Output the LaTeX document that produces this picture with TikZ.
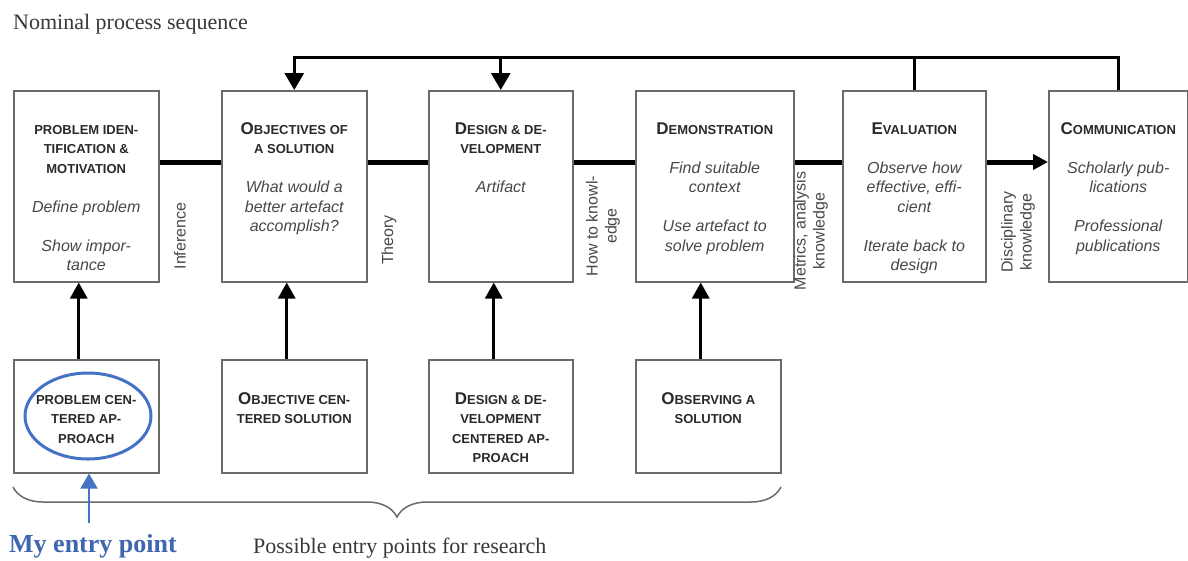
\documentclass[tikz,border=0pt]{standalone}
\usepackage{fontspec}
\usetikzlibrary{arrows.meta,shapes.geometric,decorations.pathreplacing,calc}
\newfontfamily\hv{Liberation Sans}
\newfontfamily\tms{Liberation Serif}
\definecolor{boxgray}{HTML}{6A6A6A}
\definecolor{hdgray}{HTML}{2A2A2A}
\definecolor{bdgray}{HTML}{484848}
\definecolor{myblue}{HTML}{4472C4}
\definecolor{textblue}{HTML}{3F66B0}
\newcommand\hdr[1]{{\bfseries\color{hdgray}\fontsize{13}{19.5}\selectfont #1}}
\newcommand\hdrb[2]{{\bfseries\color{hdgray}\fontsize{17}{19.5}\selectfont #1\fontsize{13}{19.5}\selectfont #2}}
\newcommand\bdy[1]{{\itshape\color{bdgray}#1}}
\newcommand\fst{\rule{0pt}{12pt}}
\begin{document}
\begin{tikzpicture}[x=1pt,y=-1pt,
  box/.style={draw=boxgray,line width=1.5pt,anchor=north west,inner sep=0},
  btext/.style={anchor=north,align=center,inner sep=0,font=\hv\fontsize{16}{19.5}\selectfont},
  vlab/.style={rotate=90,align=center,inner sep=0,text=bdgray,font=\hv\fontsize{16}{19}\selectfont},
  mainline/.style={line width=5pt},
  fbline/.style={line width=3pt},
  downarrow/.style={line width=3pt,-{Triangle[width=19pt,length=17pt]}},
  uparrow/.style={line width=3pt,-{Triangle[width=17pt,length=16pt]}},
  serif/.style={anchor=base west,inner sep=0,font=\tms\fontsize{22}{22}\selectfont,text=black!78}
]
\useasboundingbox (0,0) rectangle (1188,560);
\fill[white] (0,0) rectangle (1188,560);

% top boxes
\node[box,minimum width=145,minimum height=191] (t1) at (13,90) {};
\node[box,minimum width=145,minimum height=191] (t2) at (221,90) {};
\node[box,minimum width=144,minimum height=191] (t3) at (428,90) {};
\node[box,minimum width=158,minimum height=191] (t4) at (635,90) {};
\node[box,minimum width=143,minimum height=191] (t5) at (842,90) {};
\node[box,minimum width=139,minimum height=191] (t6) at (1048,90) {};

% bottom boxes
\node[box,minimum width=145,minimum height=113] (b1) at (13,359) {};
\node[box,minimum width=145,minimum height=113] (b2) at (221,359) {};
\node[box,minimum width=144,minimum height=113] (b3) at (428,359) {};
\node[box,minimum width=145,minimum height=113] (b4) at (635,359) {};

% texts in top boxes
\node[btext] (t1x) at ([yshift=-32pt]t1.north) {\fst\hdr{PROBLEM IDEN-}\\ \hdr{TIFICATION \&}\\ \hdr{MOTIVATION}\\[19.5pt] \bdy{Define problem}\\[19.5pt] \bdy{Show impor-}\\ \bdy{tance}};
\node[btext] (t2x) at ([yshift=-32pt]t2.north) {\fst\hdrb{O}{BJECTIVES OF}\\ \hdr{A SOLUTION}\\[19.5pt] \bdy{What would a}\\ \bdy{better artefact}\\ \bdy{accomplish?}};
\node[btext] (t3x) at ([yshift=-32pt]t3.north) {\fst\hdrb{D}{ESIGN \& DE-}\\ \hdr{VELOPMENT}\\[19.5pt] \bdy{Artifact}};
\node[btext] (t4x) at ([yshift=-32pt]t4.north) {\fst\hdrb{D}{EMONSTRATION}\\[19.5pt] \bdy{Find suitable}\\ \bdy{context}\\[19.5pt] \bdy{Use artefact to}\\ \bdy{solve problem}};
\node[btext] (t5x) at ([yshift=-32pt]t5.north) {\fst\hdrb{E}{VALUATION}\\[19.5pt] \bdy{Observe how}\\ \bdy{effective, effi-}\\ \bdy{cient}\\[19.5pt] \bdy{Iterate back to}\\ \bdy{design}};
\node[btext] (t6x) at ([yshift=-32pt]t6.north) {\fst\hdrb{C}{OMMUNICATION}\\[19.5pt] \bdy{Scholarly pub-}\\ \bdy{lications}\\[19.5pt] \bdy{Professional}\\ \bdy{publications}};

% texts in bottom boxes
\node[btext] (b1x) at ([yshift=-33pt]b1.north) {\fst\hdr{PROBLEM CEN-}\\ \hdr{TERED AP-}\\ \hdr{PROACH}};
\node[btext] (b2x) at ([yshift=-33pt]b2.north) {\fst\hdrb{O}{BJECTIVE CEN-}\\ \hdr{TERED SOLUTION}};
\node[btext] (b3x) at ([yshift=-33pt]b3.north) {\fst\hdrb{D}{ESIGN \& DE-}\\ \hdr{VELOPMENT}\\ \hdr{CENTERED AP-}\\ \hdr{PROACH}};
\node[btext] (b4x) at ([yshift=-33pt]b4.north) {\fst\hdrb{O}{BSERVING A}\\ \hdr{SOLUTION}};

% main process line
\coordinate (ml) at (0,162);
\draw[mainline] (t1.east |- ml) -- (t2.west |- ml);
\draw[mainline] (t2.east |- ml) -- (t3.west |- ml);
\draw[mainline] (t3.east |- ml) -- (t4.west |- ml);
\draw[mainline] (t4.east |- ml) -- (t5.west |- ml);
\draw[mainline,-{Triangle[width=15pt,length=15pt]}] (t5.east |- ml) -- (t6.west |- ml);

% feedback line
\coordinate (fb) at (0,57);
\draw[downarrow] (t6.north) |- (t2.north |- fb) -- (t2.north);
\draw[downarrow] (t3.north |- fb) -- (t3.north);
\draw[fbline] (t5.north) -- (t5.north |- fb);

% entry arrows
\draw[uparrow] ([xshift=-7.5pt]b1.north) -- ([xshift=-7.5pt]b1.north |- t1.south);
\draw[uparrow] ([xshift=-7.5pt]b2.north) -- ([xshift=-7.5pt]b2.north |- t2.south);
\draw[uparrow] ([xshift=-7pt]b3.north) -- ([xshift=-7pt]b3.north |- t3.south);
\draw[uparrow] ([xshift=-7.5pt]b4.north) -- ([xshift=-7.5pt]b4.north |- t4.south);

% labels between boxes
\node[vlab] (inf) at (180,236) {Inference};
\node[vlab] (thy) at (389,240) {Theory};
\node[vlab] (how) at (603,226) {How to knowl-\\edge};
\node[vlab] (met) at (811,231) {Metrics, analysis\\knowledge};
\node[vlab] (dis) at (1018,232) {Disciplinary\\knowledge};

% brace
\coordinate (brl) at (13,487);
\coordinate (brr) at (781,487);
\draw[boxgray,line width=1.5pt,decorate,decoration={brace,mirror,amplitude=30pt}] (brl) -- (brr);

% highlight
\node[draw=myblue,line width=3pt,ellipse,minimum width=126,minimum height=86,inner sep=0] (ring) at (88,416) {};
\coordinate (et) at (89,523);
\draw[myblue,line width=1.5pt,-{Triangle[width=17pt,length=15pt]}] (et) -- (et |- b1.south);

% free texts
\node[serif] (title) at (13,29) {Nominal process sequence};
\node[serif] (poss) at (253,553) {Possible entry points for research};
\node[anchor=base west,inner sep=0,font=\tms\bfseries\fontsize{26}{26}\selectfont,text=textblue] (me) at (9,552) {My entry point};
\end{tikzpicture}
\end{document}
